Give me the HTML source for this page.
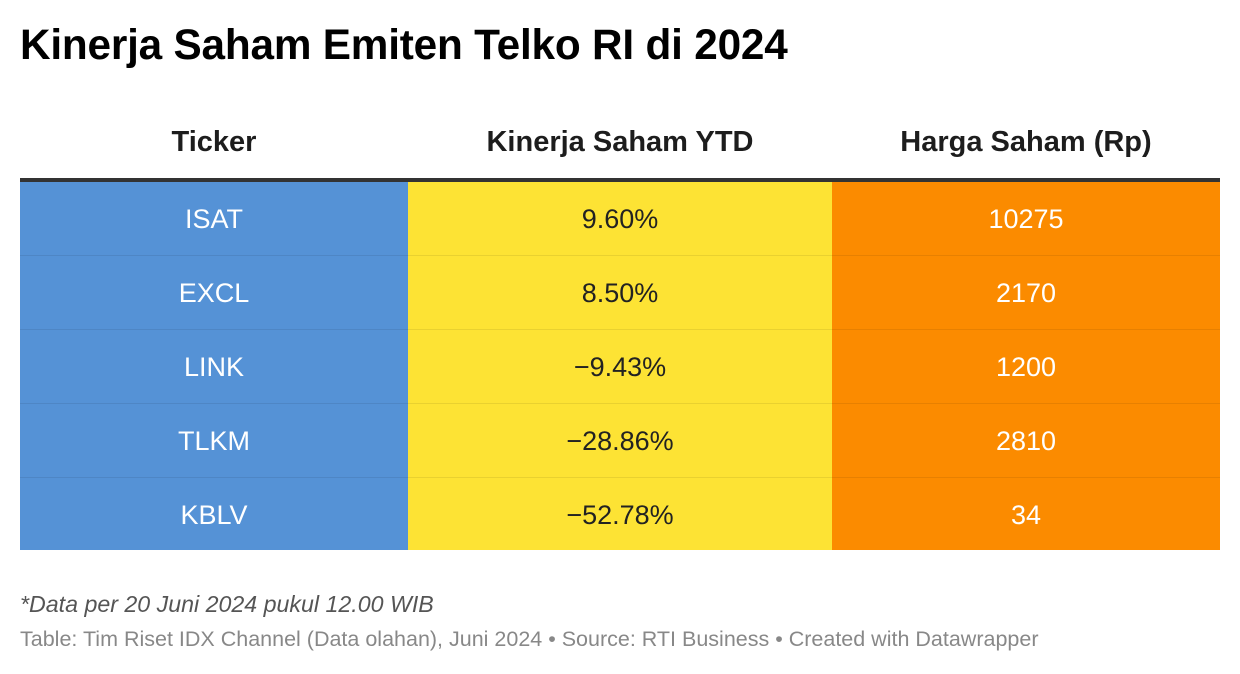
<!DOCTYPE html>
<html><head><meta charset="utf-8"><style>
body{margin:0;width:1240px;height:674px;background:#fff;font-family:"Liberation Sans",sans-serif;position:relative;overflow:hidden}
.t{position:absolute;left:20px;top:21px;font-size:42.3px;font-weight:bold;color:#000;letter-spacing:-0.2px}
.h{position:absolute;top:126px;font-size:29px;font-weight:bold;color:#1d1d1d;text-align:center}
.bar{position:absolute;left:20px;top:178px;width:1200px;height:4px;background:#333}
.col{position:absolute;top:182px;height:368px}
.r{position:absolute;left:0;right:0;height:74px;line-height:74px;text-align:center;font-size:27px;border-bottom:1px solid rgba(0,0,0,0.08);box-sizing:border-box}
.f1{position:absolute;left:20px;top:591px;font-size:23.2px;font-style:italic;color:#555}
.f2{position:absolute;left:20px;top:627px;font-size:21.5px;color:#888}
</style></head><body>
<div class="t">Kinerja Saham Emiten Telko RI di 2024</div>
<div class="h" style="left:20px;width:388px">Ticker</div>
<div class="h" style="left:408px;width:424px">Kinerja Saham YTD</div>
<div class="h" style="left:832px;width:388px">Harga Saham (Rp)</div>
<div class="bar"></div>
<div class="col" style="left:20px;width:388px;background:#5592d6;color:#fff">
<div class="r" style="top:0">ISAT</div><div class="r" style="top:74px">EXCL</div><div class="r" style="top:148px">LINK</div><div class="r" style="top:222px">TLKM</div><div class="r" style="top:296px;border:0">KBLV</div></div>
<div class="col" style="left:408px;width:424px;background:#fde334;color:#222">
<div class="r" style="top:0">9.60%</div><div class="r" style="top:74px">8.50%</div><div class="r" style="top:148px">−9.43%</div><div class="r" style="top:222px">−28.86%</div><div class="r" style="top:296px;border:0">−52.78%</div></div>
<div class="col" style="left:832px;width:388px;background:#fb8b00;color:#fff">
<div class="r" style="top:0">10275</div><div class="r" style="top:74px">2170</div><div class="r" style="top:148px">1200</div><div class="r" style="top:222px">2810</div><div class="r" style="top:296px;border:0">34</div></div>
<div class="f1">*Data per 20 Juni 2024 pukul 12.00 WIB</div>
<div class="f2">Table: Tim Riset IDX Channel (Data olahan), Juni 2024 • Source: RTI Business • Created with Datawrapper</div>
</body></html>
